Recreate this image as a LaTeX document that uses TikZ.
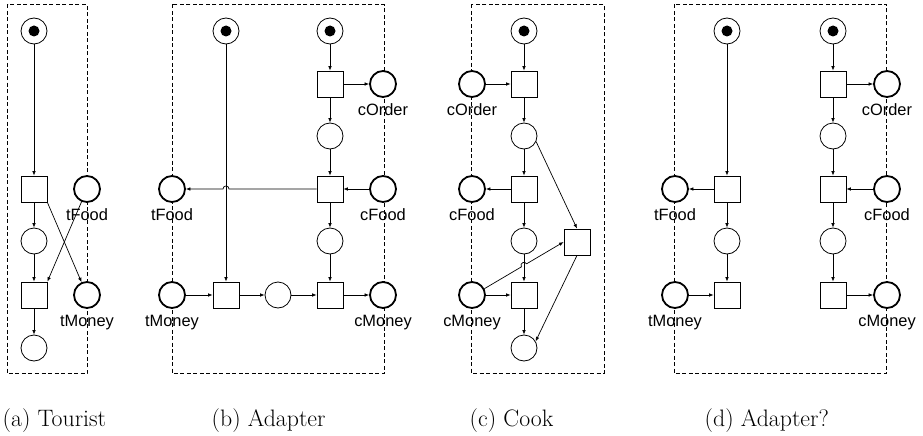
\documentclass[tikz,border=0pt]{standalone}
\usepackage{fontspec}
\newfontfamily\labfont{Liberation Sans}
\usetikzlibrary{arrows.meta}
\begin{document}
\begin{tikzpicture}[x=1pt,y=-1pt,
  pl/.style={circle,draw,fill=white,minimum size=26pt,inner sep=0pt,line width=0.8pt},
  ipl/.style={pl,line width=1.8pt},
  tr/.style={rectangle,draw,fill=white,minimum size=26pt,inner sep=0pt,line width=0.8pt},
  tok/.style={circle,fill=black,minimum size=11pt,inner sep=0pt},
  flow/.style={-{Latex[length=4.5pt,width=3.6pt]},line width=0.7pt},
  panelbox/.style={draw,dash pattern=on 4pt off 2.5pt,line width=0.7pt},
  lab/.style={font=\labfont\fontsize{16.4}{19}\selectfont,inner sep=0pt,anchor=base},
  captext/.style={font=\fontsize{23.8}{28}\selectfont,inner sep=0pt,anchor=base west}
]
\useasboundingbox (0,0) rectangle (923,436);

% panel boxes
\draw[panelbox] (7.5,4.5) rectangle (87,373.5);
\draw[panelbox] (172.3,4.5) rectangle (384.3,373.5);
\draw[panelbox] (471.7,4.5) rectangle (604,373.5);
\draw[panelbox] (674.3,4.5) rectangle (886.7,373.5);

% ---------- (a) Tourist ----------
\node[pl] (a0) at (34,31) {}; \node[tok] (a0k) at (a0) {};
\node[tr] (at1) at (34,189) {};
\node[ipl] (atF) at (87,189) {};
\node[pl] (ap1) at (34,241) {};
\node[tr] (at2) at (34,295) {};
\node[ipl] (atM) at (87,295) {};
\node[pl] (ap2) at (34,348) {};
\node[lab] (latF) at (87,220.5) {tFood};
\node[lab] (latM) at (87,326.5) {tMoney};
\draw[flow] (a0) -- (at1);
\draw[flow] (at1) -- (ap1);
\draw[flow] (ap1) -- (at2);
\draw[flow] (at2) -- (ap2);
\draw[flow] (at1.south east) -- (atM);
\draw[flow] (atF) -- (at2.north east);

% ---------- (b) Adapter ----------
\node[pl] (b0L) at (226,31) {}; \node[tok] (b0Lk) at (b0L) {};
\node[pl] (b0R) at (330,31) {}; \node[tok] (b0Rk) at (b0R) {};
\node[tr] (bt1) at (330,84) {};
\node[ipl] (bcO) at (383,84) {};
\node[pl] (bp1) at (330,136) {};
\node[tr] (bt2) at (330,189) {};
\node[ipl] (bcF) at (383,189) {};
\node[ipl] (btF) at (172,189) {};
\node[pl] (bp2) at (330,241) {};
\node[ipl] (btM) at (172,295) {};
\node[tr] (bt3) at (226,295) {};
\node[pl] (bp3) at (278,295) {};
\node[tr] (bt4) at (330,295) {};
\node[ipl] (bcM) at (383,295) {};
\node[lab] (lbcO) at (383,115.5) {cOrder};
\node[lab] (lbcF) at (383,220.5) {cFood};
\node[lab] (lbtF) at (172,220.5) {tFood};
\node[lab] (lbtM) at (172,326.5) {tMoney};
\node[lab] (lbcM) at (383,326.5) {cMoney};
\draw[flow] (b0R) -- (bt1);
\draw[flow] (bt1) -- (bcO);
\draw[flow] (bt1) -- (bp1);
\draw[flow] (bp1) -- (bt2);
\draw[flow] (bcF) -- (bt2);
\draw[flow] (bt2) -- (bp2);
\draw[flow] (bp2) -- (bt4);
\draw[flow] (b0L) -- (bt3);
\draw[flow] (btM) -- (bt3);
\draw[flow] (bt3) -- (bp3);
\draw[flow] (bp3) -- (bt4);
\draw[flow] (bt4) -- (bcM);
\draw[flow] (bt2.west) -- (229,189) .. controls (229,185) and (223,185) .. (223,189) -- (btF.east);

% ---------- (c) Cook ----------
\node[pl] (c0) at (524,31) {}; \node[tok] (c0k) at (c0) {};
\node[tr] (ct1) at (524,84) {};
\node[ipl] (ccO) at (472,84) {};
\node[pl] (cp1) at (524,136) {};
\node[tr] (ct2) at (524,189) {};
\node[ipl] (ccF) at (472,189) {};
\node[pl] (cp2) at (524,241) {};
\node[tr] (ctR) at (577,242) {};
\node[ipl] (ccM) at (472,295) {};
\node[tr] (ct3) at (524,295) {};
\node[pl] (cp3) at (524,348) {};
\node[lab] (lccO) at (472,115.5) {cOrder};
\node[lab] (lccF) at (472,220.5) {cFood};
\node[lab] (lccM) at (472,326.5) {cMoney};
\draw[flow] (c0) -- (ct1);
\draw[flow] (ccO) -- (ct1);
\draw[flow] (ct1) -- (cp1);
\draw[flow] (cp1) -- (ct2);
\draw[flow] (ct2) -- (ccF);
\draw[flow] (ct2) -- (cp2);
\draw[flow] (cp2) -- (ct3);
\draw[flow] (ccM) -- (ct3);
\draw[flow] (ct3) -- (cp3);
\draw[flow] (cp1.-25) -- (ctR.north);
\draw[flow] (ctR.south) -- (cp3.30);
\draw[flow] (ccM.27) -- (521.41,266.85) .. controls (519.38,263.40) and (524.56,260.36) .. (526.59,263.81) -- (ctR.west);

% ---------- (d) Adapter? ----------
\node[pl] (d0L) at (727,31) {}; \node[tok] (d0Lk) at (d0L) {};
\node[pl] (d0R) at (833,31) {}; \node[tok] (d0Rk) at (d0R) {};
\node[tr] (dtL1) at (727,189) {};
\node[ipl] (dtF) at (675,189) {};
\node[pl] (dpL) at (727,241) {};
\node[tr] (dtL2) at (727,295) {};
\node[ipl] (dtM) at (675,295) {};
\node[tr] (dt1) at (833,84) {};
\node[ipl] (dcO) at (887,84) {};
\node[pl] (dp1) at (833,136) {};
\node[tr] (dt2) at (833,189) {};
\node[ipl] (dcF) at (887,189) {};
\node[pl] (dp2) at (833,241) {};
\node[tr] (dt3) at (833,295) {};
\node[ipl] (dcM) at (887,295) {};
\node[lab] (ldtF) at (675,220.5) {tFood};
\node[lab] (ldtM) at (675,326.5) {tMoney};
\node[lab] (ldcO) at (887,115.5) {cOrder};
\node[lab] (ldcF) at (887,220.5) {cFood};
\node[lab] (ldcM) at (887,326.5) {cMoney};
\draw[flow] (d0L) -- (dtL1);
\draw[flow] (dtL1) -- (dtF);
\draw[flow] (dtL1) -- (dpL);
\draw[flow] (dpL) -- (dtL2);
\draw[flow] (dtM) -- (dtL2);
\draw[flow] (d0R) -- (dt1);
\draw[flow] (dt1) -- (dcO);
\draw[flow] (dt1) -- (dp1);
\draw[flow] (dp1) -- (dt2);
\draw[flow] (dcF) -- (dt2);
\draw[flow] (dt2) -- (dp2);
\draw[flow] (dp2) -- (dt3);
\draw[flow] (dt3) -- (dcM);

% captions
\node[captext] (capa) at (2.5,426) {(a) Tourist};
\node[captext] (capb) at (211.5,426) {(b) Adapter};
\node[captext] (capc) at (469.5,426) {(c) Cook};
\node[captext] (capd) at (704.5,426) {(d) Adapter?};
\end{tikzpicture}
\end{document}
